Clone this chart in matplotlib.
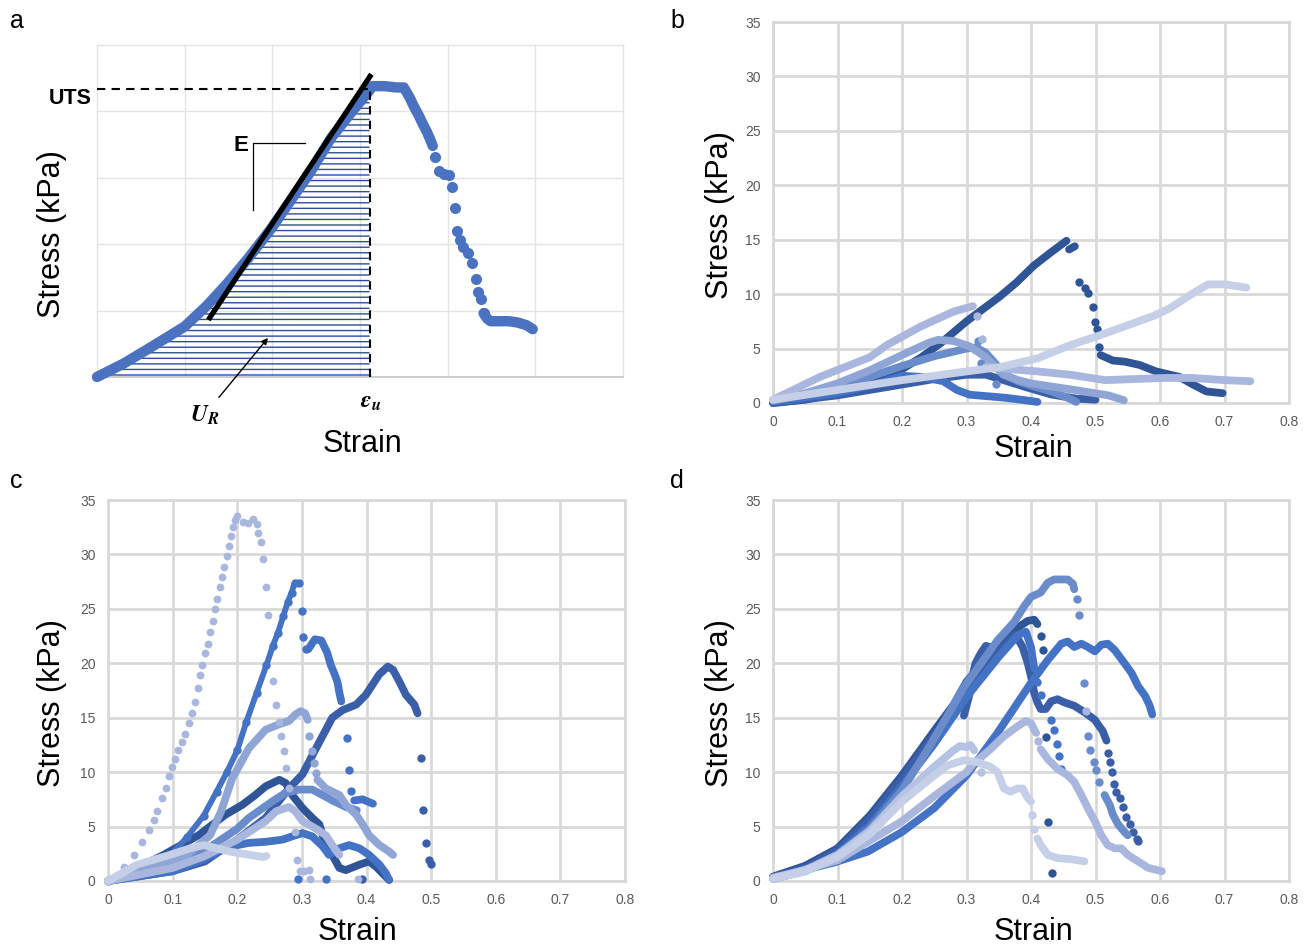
import matplotlib.pyplot as plt

plt.rcParams['font.family'] = ['Liberation Sans', 'DejaVu Sans']
plt.rcParams['hatch.linewidth'] = 1.0
plt.rcParams['mathtext.fontset'] = 'stix'

# colour shades used by the series (dark -> light)
C1 = '#2F5597'
C2 = '#3A5FA8'
C3 = '#4472C4'
C4 = '#6A8CCB'
C5 = '#8FA5D5'
C6 = '#A9B7DE'
C7 = '#C5D0E8'
CA = '#4A72C0'
GRID = '#D9D9D9'
TICK = '#595959'

strain_ticks = [0, 0.1, 0.2, 0.3, 0.4, 0.5, 0.6, 0.7, 0.8]
strain_labels = ['0', '0.1', '0.2', '0.3', '0.4', '0.5', '0.6', '0.7', '0.8']
stress_ticks = [0, 5, 10, 15, 20, 25, 30, 35]
stress_labels = ['0', '5', '10', '15', '20', '25', '30', '35']

# ---------------- panel a (schematic) ----------------
a_curve = [(0, 0), (0.03, 1.0), (0.063, 2.3), (0.1, 3.8), (0.125, 5.35), (0.148, 7.0),
           (0.172, 8.9), (0.199, 11.2), (0.22, 13.2), (0.244, 15.5), (0.267, 18.0),
           (0.291, 20.0), (0.31, 21.5), (0.314, 21.9), (0.328, 21.9), (0.342, 21.8),
           (0.35, 21.8), (0.357, 21.0), (0.362, 20.3), (0.367, 19.7), (0.372, 19.0),
           (0.376, 18.5), (0.38, 17.9), (0.383, 17.4)]
a_dots = [(0.385, 16.6), (0.39, 15.5), (0.396, 15.3), (0.402, 15.2), (0.405, 14.3),
          (0.408, 12.7), (0.411, 11.0), (0.414, 10.3), (0.418, 9.8), (0.423, 9.3),
          (0.428, 8.6), (0.432, 7.4), (0.435, 6.4), (0.438, 5.9), (0.441, 4.8)]
a_tail = [(0.441, 4.8), (0.445, 4.4), (0.449, 4.2), (0.46, 4.2), (0.47, 4.2),
          (0.48, 4.1), (0.49, 3.9), (0.497, 3.6)]
a_modulus = [(0.127, 4.3), (0.313, 22.8)]
a_uts = 21.7
a_eps_u = 0.311

# ---------------- panel b ----------------
b_dark = [(0, 0), (0.05, 0.3), (0.1, 0.9), (0.15, 1.8), (0.2, 3.1), (0.23, 4.2), (0.26, 5.5),
          (0.3, 7.5), (0.352, 9.8), (0.378, 11.1), (0.404, 12.6), (0.43, 13.8), (0.455, 14.9)]
b_dark_seg = [(0.459, 14.1), (0.468, 14.4)]
b_dark_dots = [(0.475, 11.1), (0.484, 10.6), (0.489, 10.15), (0.496, 8.8), (0.499, 7.4),
               (0.502, 6.8), (0.505, 5.1)]
b_dark_tail = [(0.508, 4.4), (0.527, 3.9), (0.545, 3.8), (0.568, 3.5), (0.594, 2.9),
               (0.63, 2.4), (0.651, 1.7), (0.672, 1.06), (0.697, 0.9)]
b_dark2 = [(0, 0), (0.1, 0.7), (0.2, 1.7), (0.25, 2.2), (0.3, 2.6), (0.33, 2.6),
           (0.352, 2.2), (0.39, 1.5), (0.43, 0.8), (0.47, 0.4), (0.5, 0.3)]
b_blue = [(0, 0.1), (0.1, 0.9), (0.15, 1.6), (0.2, 2.5), (0.23, 2.4), (0.264, 2.0),
          (0.285, 1.2), (0.305, 0.76), (0.357, 0.5), (0.385, 0.3), (0.41, 0.1)]
b_mid = [(0, 0.2), (0.1, 1.4), (0.2, 3.4), (0.25, 4.3), (0.3, 5.0), (0.315, 5.1),
         (0.33, 4.6), (0.345, 3.6), (0.36, 2.6), (0.38, 2.0), (0.4, 1.6), (0.43, 1.1),
         (0.46, 0.4), (0.47, 0.1)]
b_mid_dots = [(0.318, 5.7), (0.322, 3.7), (0.345, 1.7)]
b_midlight = [(0, 0.3), (0.05, 0.9), (0.1, 1.8), (0.15, 3.0), (0.2, 4.4), (0.24, 5.5),
              (0.256, 5.8), (0.28, 5.7), (0.305, 5.2), (0.33, 4.2), (0.357, 2.6),
              (0.38, 2.1), (0.4, 1.8), (0.467, 1.2), (0.52, 0.7), (0.544, 0.25)]
b_light = [(0, 0.3), (0.073, 2.4), (0.15, 4.2), (0.176, 5.3), (0.228, 7.0), (0.28, 8.4),
           (0.31, 8.9)]
b_light_dots = [(0.316, 8.0), (0.324, 5.9)]
b_light_tail = [(0.33, 3.3), (0.352, 3.2), (0.39, 3.0), (0.41, 2.9), (0.46, 2.6),
                (0.515, 2.1), (0.607, 2.3), (0.65, 2.3), (0.7, 2.1), (0.74, 2.0)]
b_lightest = [(0, 0.3), (0.1, 1.2), (0.2, 2.1), (0.3, 2.9), (0.352, 3.3), (0.41, 4.1),
              (0.46, 5.3), (0.506, 6.2), (0.548, 7.1), (0.59, 8.0), (0.615, 8.7), (0.641, 9.7),
              (0.66, 10.4), (0.675, 10.9), (0.7, 10.9), (0.734, 10.6)]

# ---------------- panel c ----------------
c_steep = [(0, 0), (0.012, 0.5), (0.025, 1.3), (0.04, 2.4), (0.053, 3.6), (0.063, 4.7),
           (0.071, 5.6), (0.076, 6.4), (0.084, 7.6), (0.089, 8.5), (0.094, 9.6),
           (0.099, 10.5), (0.104, 11.2), (0.109, 12.0), (0.114, 12.8), (0.119, 13.5),
           (0.125, 14.5), (0.13, 15.4), (0.135, 16.4), (0.139, 17.7), (0.143, 18.9),
           (0.146, 19.8), (0.15, 20.9), (0.154, 21.8), (0.158, 22.9), (0.162, 23.9),
           (0.166, 25.0), (0.169, 25.9), (0.173, 27.0), (0.176, 27.9), (0.179, 28.8),
           (0.184, 29.9), (0.187, 30.8), (0.19, 31.7), (0.194, 32.5), (0.196, 33.2),
           (0.2, 33.5), (0.209, 33.0), (0.217, 32.9), (0.225, 33.3), (0.23, 32.8),
           (0.232, 32.0), (0.236, 31.1), (0.24, 29.6), (0.244, 27.0), (0.247, 24.4),
           (0.256, 18.4), (0.26, 16.2), (0.265, 14.6), (0.268, 13.3), (0.272, 11.9),
           (0.275, 10.4), (0.28, 8.5), (0.29, 4.5), (0.292, 1.9), (0.297, 0.9),
           (0.304, 0.9), (0.311, 1.0), (0.313, 0.2), (0.387, 0.2)]
c_blue = [(0, 0), (0.05, 0.8), (0.1, 2.6), (0.122, 4.0), (0.148, 6.0), (0.168, 8.2),
          (0.184, 10.0), (0.2, 12.0), (0.214, 14.6), (0.23, 17.3), (0.245, 19.8),
          (0.255, 21.6), (0.263, 22.8), (0.271, 24.3), (0.278, 25.6), (0.284, 26.5),
          (0.289, 27.4), (0.295, 27.4)]
c_blue_dots = [(0.3, 24.8), (0.302, 22.4), (0.306, 21.3), (0.37, 13.1), (0.373, 10.2),
               (0.376, 8.3), (0.294, 0.2), (0.338, 0.2)]
c_blue_mid = [(0.31, 21.3), (0.32, 22.2), (0.33, 22.1), (0.339, 21.0), (0.345, 19.8),
              (0.35, 19.1), (0.355, 18.3), (0.358, 17.3), (0.361, 16.5)]
c_blue_tail = [(0.381, 7.4), (0.394, 7.5), (0.41, 7.1)]
c_dark = [(0, 0), (0.045, 1.2), (0.086, 2.4), (0.122, 3.6), (0.14, 4.2), (0.182, 6.1),
          (0.208, 7.0), (0.228, 7.9), (0.244, 8.7), (0.265, 9.3), (0.275, 9.0),
          (0.285, 7.9), (0.301, 6.7), (0.316, 5.8), (0.327, 5.2), (0.337, 3.3),
          (0.347, 2.4), (0.358, 1.2), (0.368, 1.0), (0.389, 1.5), (0.404, 1.8),
          (0.415, 1.3), (0.425, 0.7), (0.435, 0.1)]
c_dark2 = [(0, 0), (0.1, 0.9), (0.15, 1.8), (0.172, 2.7), (0.2, 3.8), (0.244, 5.8),
           (0.28, 8.5), (0.301, 9.8), (0.322, 12.2), (0.347, 15.0), (0.363, 15.7),
           (0.384, 16.2), (0.399, 17.1), (0.42, 19.0), (0.433, 19.7), (0.441, 19.4),
           (0.451, 18.3), (0.461, 17.1), (0.474, 16.2), (0.479, 15.4)]
c_dark2_dots = [(0.484, 11.3), (0.488, 6.5), (0.492, 3.5), (0.496, 1.9), (0.5, 1.6),
                (0.393, 0.2)]
c_low = [(0, 0), (0.1, 0.9), (0.14, 1.8), (0.172, 2.7), (0.192, 3.2), (0.218, 3.5),
         (0.244, 3.6), (0.27, 3.8), (0.29, 4.2), (0.301, 4.4), (0.316, 4.1), (0.332, 3.2),
         (0.342, 2.4), (0.358, 3.0), (0.373, 3.3), (0.389, 3.0), (0.404, 2.4),
         (0.42, 1.5), (0.43, 0.7), (0.435, 0.1)]
c_mid = [(0, 0), (0.1, 1.3), (0.15, 2.8), (0.2, 4.8), (0.218, 5.8), (0.254, 7.3),
         (0.275, 8.1), (0.296, 8.4), (0.316, 8.4), (0.332, 7.9), (0.347, 7.4),
         (0.368, 6.8), (0.385, 6.5)]
c_midlight = [(0, 0), (0.07, 1.2), (0.122, 2.4), (0.158, 4.2), (0.175, 6.4), (0.192, 9.4),
              (0.218, 12.2), (0.244, 13.9), (0.265, 14.4), (0.28, 14.7), (0.29, 15.3),
              (0.298, 15.6), (0.305, 15.4), (0.309, 14.8)]
c_midlight_dots = [(0.311, 13.3), (0.315, 11.9), (0.319, 10.8), (0.322, 9.9)]
c_midlight_tail = [(0.324, 9.3), (0.337, 8.5), (0.358, 7.9), (0.368, 7.0), (0.384, 6.1),
                   (0.394, 5.2), (0.404, 4.2), (0.42, 3.3), (0.435, 2.7), (0.441, 2.4)]
c_light = [(0, 0), (0.1, 1.2), (0.15, 2.3), (0.2, 3.8), (0.244, 5.5), (0.26, 6.4),
           (0.28, 6.8), (0.29, 6.4), (0.301, 5.5), (0.322, 4.8), (0.337, 4.2),
           (0.347, 3.3), (0.358, 2.4)]
c_lightest = [(0, 0), (0.045, 1.5), (0.096, 2.4), (0.127, 3.0), (0.148, 3.3), (0.168, 3.0),
              (0.189, 2.7), (0.209, 2.5), (0.24, 2.2), (0.245, 2.3)]

# ---------------- panel d ----------------
d_dark = [(0, 0.4), (0.05, 1.4), (0.1, 3.0), (0.15, 6.0), (0.2, 9.7), (0.25, 13.8),
          (0.28, 16.2), (0.3, 18.3), (0.35, 21.8), (0.38, 23.3), (0.395, 23.9),
          (0.405, 24.0), (0.41, 23.6)]
d_dark_dots = [(0.415, 22.5), (0.418, 21.2), (0.424, 13.2), (0.427, 5.4), (0.432, 0.7)]
d_loop = [(0, 0.3), (0.05, 1.2), (0.1, 2.8), (0.15, 5.7), (0.2, 9.4), (0.25, 13.4),
          (0.28, 15.6), (0.3, 17.3), (0.32, 19.8), (0.336, 21.5), (0.33, 21.6),
          (0.322, 20.9), (0.314, 20.0), (0.309, 18.8), (0.304, 17.0), (0.296, 15.2)]
d_second = [(0, 0.3), (0.05, 1.1), (0.1, 2.6), (0.15, 5.3), (0.2, 9.0), (0.25, 13.0),
            (0.3, 17.3), (0.35, 21.0), (0.374, 22.6), (0.379, 22.3), (0.387, 21.5),
            (0.395, 20.0), (0.4, 18.8), (0.405, 17.3), (0.41, 16.4), (0.415, 15.8),
            (0.423, 15.8), (0.431, 16.5), (0.441, 16.7), (0.452, 16.4), (0.467, 16.1),
            (0.483, 15.5), (0.499, 14.8), (0.506, 14.2), (0.511, 13.8), (0.517, 12.9)]
d_second_dots = [(0.519, 11.8), (0.522, 10.9), (0.525, 10.0), (0.529, 8.9), (0.532, 8.2),
                 (0.538, 7.6), (0.543, 6.8), (0.548, 5.9), (0.553, 5.2), (0.558, 4.5),
                 (0.564, 3.9), (0.566, 3.7)]
d_blue = [(0, 0.3), (0.05, 1.0), (0.1, 2.5), (0.15, 5.1), (0.2, 8.7), (0.25, 12.6),
          (0.3, 16.9), (0.35, 20.6), (0.38, 22.6), (0.392, 22.9), (0.4, 21.5), (0.405, 19.5)]
d_blue_dots = [(0.41, 18.3), (0.416, 17.1), (0.431, 14.8), (0.436, 13.9), (0.44, 12.6),
               (0.444, 11.5), (0.447, 10.3)]
d_right = [(0, 0.3), (0.095, 1.7), (0.147, 2.7), (0.2, 4.5), (0.25, 6.7), (0.3, 9.7),
           (0.348, 13.6), (0.4, 18.2), (0.426, 20.3), (0.447, 21.8), (0.457, 22.0),
           (0.467, 21.5), (0.478, 21.8), (0.488, 21.5), (0.499, 21.1), (0.509, 21.7),
           (0.519, 21.8), (0.53, 21.2), (0.545, 20.0), (0.556, 19.1), (0.566, 17.9),
           (0.577, 17.0), (0.584, 16.1), (0.588, 15.3)]
d_top = [(0, 0.2), (0.05, 0.9), (0.1, 2.3), (0.15, 4.8), (0.2, 8.3), (0.244, 12.5),
         (0.296, 17.8), (0.348, 22.1), (0.374, 23.8), (0.389, 25.2), (0.4, 26.1),
         (0.415, 26.5), (0.426, 27.4), (0.436, 27.7), (0.457, 27.7), (0.465, 27.3),
         (0.467, 26.8)]
d_top_dots = [(0.471, 25.9), (0.475, 24.4), (0.482, 18.2), (0.488, 13.3), (0.492, 12.0),
              (0.498, 10.9), (0.501, 10.2), (0.506, 9.1)]
d_top_tail = [(0.514, 7.9), (0.522, 7.0), (0.527, 6.1), (0.535, 5.2), (0.545, 4.5),
              (0.55, 4.2)]
d_light = [(0, 0.2), (0.1, 1.9), (0.2, 5.5), (0.25, 7.8), (0.3, 10.0), (0.311, 10.8),
           (0.337, 12.1), (0.358, 13.3), (0.379, 14.2), (0.392, 14.7), (0.4, 14.5),
           (0.405, 13.9), (0.408, 13.6)]
d_light_tail = [(0.415, 12.1), (0.426, 11.2), (0.441, 10.3), (0.457, 9.7), (0.467, 9.1),
                (0.478, 7.9), (0.488, 6.7), (0.499, 5.5), (0.509, 4.2), (0.519, 3.3),
                (0.53, 3.0), (0.54, 3.0), (0.55, 2.4), (0.566, 1.8), (0.582, 1.2),
                (0.603, 0.9)]
d_light_dots = [(0.411, 12.9), (0.485, 15.6)]
d_pale = [(0, 0.3), (0.05, 1.0), (0.1, 2.4), (0.15, 4.6), (0.2, 7.8), (0.25, 10.5),
          (0.28, 12.0), (0.29, 12.4), (0.3, 12.3), (0.306, 12.5), (0.312, 12.0)]
d_pale_dots = [(0.322, 10.0)]
d_lightest = [(0, 0.2), (0.05, 0.9), (0.1, 2.2), (0.15, 4.3), (0.2, 7.3), (0.244, 9.4),
              (0.27, 10.6), (0.296, 11.1), (0.317, 10.9), (0.337, 10.5), (0.348, 10.0),
              (0.358, 8.5), (0.368, 8.2), (0.379, 8.5), (0.387, 8.5), (0.394, 7.7),
              (0.4, 7.3)]
d_lightest_dots = [(0.402, 6.1), (0.405, 4.8)]
d_lightest_tail = [(0.41, 3.9), (0.415, 3.3), (0.426, 2.4), (0.441, 2.1), (0.462, 2.0),
                   (0.483, 1.8)]


def xs(pts):
    return [p[0] for p in pts]


def ys(pts):
    return [p[1] for p in pts]


def band(ax, pts, color, lw=5.6):
    ax.plot(xs(pts), ys(pts), '-', color=color, lw=lw, solid_capstyle='round',
            solid_joinstyle='round', clip_on=False, zorder=3)


def dots(ax, pts, color, ms=6.0):
    ax.plot(xs(pts), ys(pts), 'o', color=color, ms=ms, mec='none', clip_on=False, zorder=3)


def grid_axes(ax):
    ax.set_xlim(0, 0.8)
    ax.set_ylim(0, 35)
    ax.set_xticks(strain_ticks)
    ax.set_xticklabels(strain_labels)
    ax.set_yticks(stress_ticks)
    ax.set_yticklabels(stress_labels)
    ax.tick_params(length=0, labelsize=10, labelcolor=TICK, pad=9)
    ax.grid(True, color=GRID, lw=2.0)
    ax.set_axisbelow(True)
    for s in ax.spines.values():
        s.set_color(GRID)
        s.set_linewidth(2.0)


def labels(ax, xl, yl, letter, lx, ly):
    ax.text(xl[0], xl[1], 'Strain', transform=ax.transAxes, ha='center', va='baseline',
            fontsize=22)
    ax.text(yl[0], yl[1], 'Stress (kPa)', transform=ax.transAxes, ha='center', va='center',
            rotation=90, fontsize=22)
    fig.text(lx, ly, letter, fontsize=18, ha='left', va='baseline')


fig = plt.figure(figsize=(13.11, 9.5), dpi=100)

# ---- a ----
ax = fig.add_axes([97 / 1311, 1 - 377 / 950, 526 / 1311, 332 / 950])
ax.set_xlim(0, 0.6)
ax.set_ylim(0, 25)
ax.set_xticks([0.1, 0.2, 0.3, 0.4, 0.5])
ax.set_yticks([5, 10, 15, 20])
ax.set_xticklabels([])
ax.set_yticklabels([])
ax.tick_params(length=0)
ax.grid(True, color='#E4E4E4', lw=1.0)
ax.set_axisbelow(True)
for s in ax.spines.values():
    s.set_color('#E4E4E4')
    s.set_linewidth(1.0)
ax.spines['bottom'].set_color('#C8C8C8')
ax.spines['bottom'].set_linewidth(1.3)

hx = [p[0] for p in a_curve if p[0] <= a_eps_u] + [a_eps_u]
hy = [p[1] for p in a_curve if p[0] <= a_eps_u] + [a_uts]
ax.fill_between(hx, 0, hy, facecolor='none', edgecolor='#2E4E95', hatch='---', lw=0,
                zorder=2)
band(ax, a_curve, CA, lw=7.5)
dots(ax, a_dots, CA, ms=8)
band(ax, a_tail, CA, lw=7.5)
ax.plot(xs(a_modulus), ys(a_modulus), color='black', lw=3.8, solid_capstyle='butt', zorder=4)
ax.plot([0, a_eps_u], [a_uts, a_uts], color='black', lw=1.5, ls=(0, (4, 3)), zorder=4,
        clip_on=False)
ax.plot([a_eps_u, a_eps_u], [0, a_uts], color='black', lw=1.5, ls=(0, (4, 3)), zorder=4)
ax.text(-0.006, 21.0, 'UTS', ha='right', va='center', fontsize=15.5, fontweight='bold')
ax.text(0.164, 17.4, 'E', ha='center', va='center', fontsize=16, fontweight='bold')
ax.plot([0.237, 0.178, 0.178], [17.6, 17.6, 12.6], color='black', lw=0.9, zorder=4)
ax.text(a_eps_u + 0.001, -1.9, r'$\mathbfit{\varepsilon}_{\mathbfit{u}}$', ha='center',
        va='center', fontsize=17)
ax.text(0.123, -2.9, r'$\mathbfit{U}_{\mathbfit{R}}$', ha='center', va='center', fontsize=17)
ax.annotate('', xy=(0.197, 3.1), xytext=(0.137, -1.7),
            arrowprops=dict(arrowstyle='-|>', color='black', lw=1.0, mutation_scale=9),
            annotation_clip=False)
labels(ax, (0.504, -0.226), (-0.086, 0.43), 'a', 10 / 1311, 1 - 28 / 950)

# ---- b ----
ax = fig.add_axes([773 / 1311, 1 - 403 / 950, 516 / 1311, 381 / 950])
grid_axes(ax)
band(ax, b_dark, C1)
band(ax, b_dark_seg, C1)
dots(ax, b_dark_dots, C1)
band(ax, b_dark_tail, C1)
band(ax, b_dark2, C2)
band(ax, b_blue, C3)
band(ax, b_mid, C4)
dots(ax, b_mid_dots, C4)
band(ax, b_midlight, C5)
band(ax, b_light, C6)
dots(ax, b_light_dots, C6)
band(ax, b_light_tail, C6)
band(ax, b_lightest, C7)
labels(ax, (0.504, -0.142), (-0.103, 0.493), 'b', 670 / 1311, 1 - 28 / 950)

# ---- c ----
ax = fig.add_axes([108 / 1311, 1 - 881 / 950, 517 / 1311, 381 / 950])
grid_axes(ax)
band(ax, c_dark, C1)
band(ax, c_dark2, C2)
dots(ax, c_dark2_dots, C2)
band(ax, c_low, C3)
band(ax, c_blue, C3, lw=4.2)
dots(ax, c_blue, C3)
dots(ax, c_blue_dots, C3)
band(ax, c_blue_mid, C3)
band(ax, c_blue_tail, C3)
band(ax, c_mid, C4)
band(ax, c_midlight, C5)
dots(ax, c_midlight_dots, C5)
band(ax, c_midlight_tail, C5)
band(ax, c_light, C6)
dots(ax, c_steep, C6, ms=5.6)
band(ax, c_lightest, C7)
labels(ax, (0.482, -0.155), (-0.108, 0.467), 'c', 10 / 1311, 1 - 488 / 950)

# ---- d ----
ax = fig.add_axes([773 / 1311, 1 - 881 / 950, 516 / 1311, 381 / 950])
grid_axes(ax)
band(ax, d_dark, C1)
dots(ax, d_dark_dots, C1)
band(ax, d_loop, C2)
band(ax, d_second, C2)
dots(ax, d_second_dots, C2)
band(ax, d_right, C3)
band(ax, d_blue, C3)
dots(ax, d_blue_dots, C3)
band(ax, d_top, C4)
dots(ax, d_top_dots, C4)
band(ax, d_top_tail, C4)
band(ax, d_light, C6)
dots(ax, d_light_dots, C6)
band(ax, d_light_tail, C6)
band(ax, d_pale, '#B4C2E3')
dots(ax, d_pale_dots, '#B4C2E3')
band(ax, d_lightest, C7)
dots(ax, d_lightest_dots, C7)
band(ax, d_lightest_tail, C7)
labels(ax, (0.504, -0.155), (-0.103, 0.467), 'd', 670 / 1311, 1 - 488 / 950)

fig.savefig('out.png', dpi=100)
